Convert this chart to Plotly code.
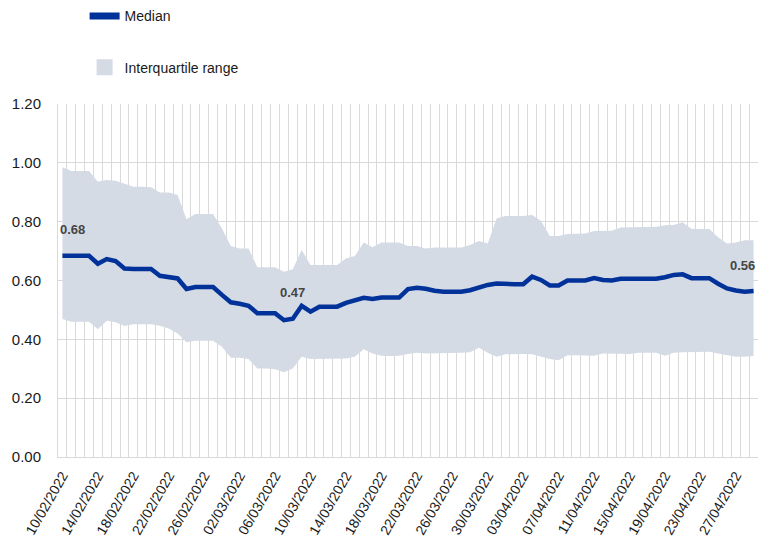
"""Median and interquartile range, daily, 10/02/2022 - 29/04/2022."""

import pandas as pd
import plotly.graph_objects as go

# ──────────────────────────────────────────────
# Data
# ──────────────────────────────────────────────
DATES = pd.date_range("2022-02-10", "2022-04-29", freq="D")

MEDIAN = [
    0.684, 0.684, 0.684, 0.684, 0.657, 0.673, 0.666, 0.641, 0.639, 0.639,
    0.639, 0.616, 0.612, 0.607, 0.571, 0.578, 0.578, 0.578, 0.551, 0.526,
    0.521, 0.514, 0.489, 0.489, 0.489, 0.465, 0.470, 0.514, 0.494, 0.511,
    0.511, 0.511, 0.524, 0.533, 0.541, 0.537, 0.542, 0.542, 0.542, 0.571,
    0.575, 0.572, 0.565, 0.562, 0.562, 0.562, 0.567, 0.577, 0.585, 0.590,
    0.587, 0.587, 0.587, 0.613, 0.602, 0.583, 0.583, 0.600, 0.600, 0.600,
    0.608, 0.602, 0.600, 0.606, 0.606, 0.606, 0.606, 0.606, 0.611, 0.619,
    0.621, 0.608, 0.608, 0.608, 0.589, 0.573, 0.566, 0.562, 0.564,
]

UPPER_Q = [
    0.985, 0.972, 0.972, 0.972, 0.936, 0.942, 0.939, 0.928, 0.919, 0.919,
    0.917, 0.899, 0.899, 0.891, 0.808, 0.826, 0.826, 0.826, 0.777, 0.717,
    0.709, 0.709, 0.645, 0.645, 0.645, 0.630, 0.638, 0.704, 0.653, 0.653,
    0.653, 0.653, 0.675, 0.683, 0.729, 0.713, 0.729, 0.730, 0.729, 0.717,
    0.717, 0.709, 0.712, 0.712, 0.712, 0.712, 0.721, 0.734, 0.726, 0.811,
    0.819, 0.819, 0.819, 0.823, 0.803, 0.751, 0.751, 0.758, 0.760, 0.760,
    0.768, 0.769, 0.769, 0.780, 0.781, 0.781, 0.781, 0.783, 0.788, 0.789,
    0.798, 0.775, 0.775, 0.775, 0.747, 0.726, 0.729, 0.737, 0.737,
]

LOWER_Q = [
    0.469, 0.460, 0.460, 0.460, 0.434, 0.463, 0.458, 0.445, 0.451, 0.451,
    0.451, 0.446, 0.437, 0.420, 0.390, 0.395, 0.395, 0.395, 0.375, 0.337,
    0.337, 0.333, 0.301, 0.301, 0.298, 0.288, 0.301, 0.341, 0.333, 0.333,
    0.333, 0.333, 0.335, 0.341, 0.366, 0.352, 0.344, 0.343, 0.344, 0.350,
    0.354, 0.352, 0.352, 0.352, 0.352, 0.354, 0.356, 0.371, 0.354, 0.341,
    0.349, 0.350, 0.350, 0.349, 0.341, 0.333, 0.329, 0.346, 0.346, 0.346,
    0.344, 0.352, 0.352, 0.350, 0.350, 0.354, 0.354, 0.354, 0.344, 0.354,
    0.356, 0.356, 0.356, 0.358, 0.352, 0.346, 0.341, 0.341, 0.343,
]

# points that carry a value label: (index, horizontal nudge in px)
LABELS = [(0, 10), (26, 0), (78, -11)]

# ──────────────────────────────────────────────
# Style
# ──────────────────────────────────────────────
BLUE = "#003299"
BAND = "#d5dbe5"
GRID = "#d9d9d9"
FONT = "Liberation Sans, Arial, sans-serif"

fig = go.Figure()

# Interquartile band: lower bound (invisible) + upper bound filled down to it
fig.add_trace(go.Scatter(
    x=DATES, y=LOWER_Q,
    mode="lines",
    line=dict(width=0, color=BAND),
    showlegend=False,
    hoverinfo="skip",
))
fig.add_trace(go.Scatter(
    x=DATES, y=UPPER_Q,
    mode="lines",
    line=dict(width=0, color=BAND),
    fill="tonexty",
    fillcolor=BAND,
    name="Interquartile range",
    showlegend=False,
))

fig.add_trace(go.Scatter(
    x=DATES, y=MEDIAN,
    mode="lines",
    line=dict(width=4.5, color=BLUE),
    name="Median",
    showlegend=False,
))

# Legend-only entries (thick bar / square swatch as in the original)
fig.add_trace(go.Scatter(
    x=[None], y=[None],
    mode="lines",
    line=dict(width=7, color=BLUE),
    name="Median",
    legendgroup="median",
    legendrank=1,
))
fig.add_trace(go.Scatter(
    x=[None], y=[None],
    mode="markers",
    marker=dict(symbol="square", size=17, color=BAND),
    name="Interquartile range",
    legendgroup="iqr",
    legendrank=2,
))

# Value labels
for i, nudge in LABELS:
    fig.add_annotation(
        x=DATES[i], y=MEDIAN[i],
        text=f"{MEDIAN[i]:.2f}",
        showarrow=False,
        xanchor="center",
        xshift=nudge,
        yshift=26,
        font=dict(family=FONT, size=13, color="#454545", weight="bold"),
    )

day_ms = 86400000
fig.update_layout(
    width=759,
    height=543,
    margin=dict(l=58, r=1, t=103, b=86),
    paper_bgcolor="white",
    plot_bgcolor="white",
    font=dict(family=FONT, size=14, color="#1a1a1a"),
    showlegend=True,
    legend=dict(
        x=0.038, y=1.29,
        xanchor="left", yanchor="top",
        bgcolor="rgba(0,0,0,0)",
        tracegroupgap=30,
        font=dict(size=14),
    ),
    xaxis=dict(
        type="date",
        range=[DATES[0] - pd.Timedelta(hours=12), DATES[-1] + pd.Timedelta(hours=12)],
        tick0=DATES[0],
        dtick=4 * day_ms,
        tickformat="%d/%m/%Y",
        tickangle=-60,
        tickfont=dict(size=14),
        ticklabelstandoff=4,
        showgrid=False,
        ticks="",
        automargin=False,
        showline=True,
        linecolor=GRID,
        linewidth=1,
        minor=dict(
            tick0=DATES[0] - pd.Timedelta(hours=12),
            dtick=day_ms,
            showgrid=True,
            gridcolor=GRID,
            gridwidth=1,
            ticks="",
        ),
        zeroline=False,
    ),
    yaxis=dict(
        range=[0, 1.2],
        dtick=0.2,
        tickformat=".2f",
        showgrid=True,
        gridcolor=GRID,
        gridwidth=1,
        ticks="",
        automargin=False,
        ticklabelstandoff=13,
        showline=True,
        linecolor=GRID,
        zeroline=False,
        tickfont=dict(size=15),
    ),
)

# drop the default 8px body margin so the figure fills the window exactly
fig.write_html(
    "out.html",
    config={"displayModeBar": False},
    post_script="document.body.style.margin = '0';",
)
